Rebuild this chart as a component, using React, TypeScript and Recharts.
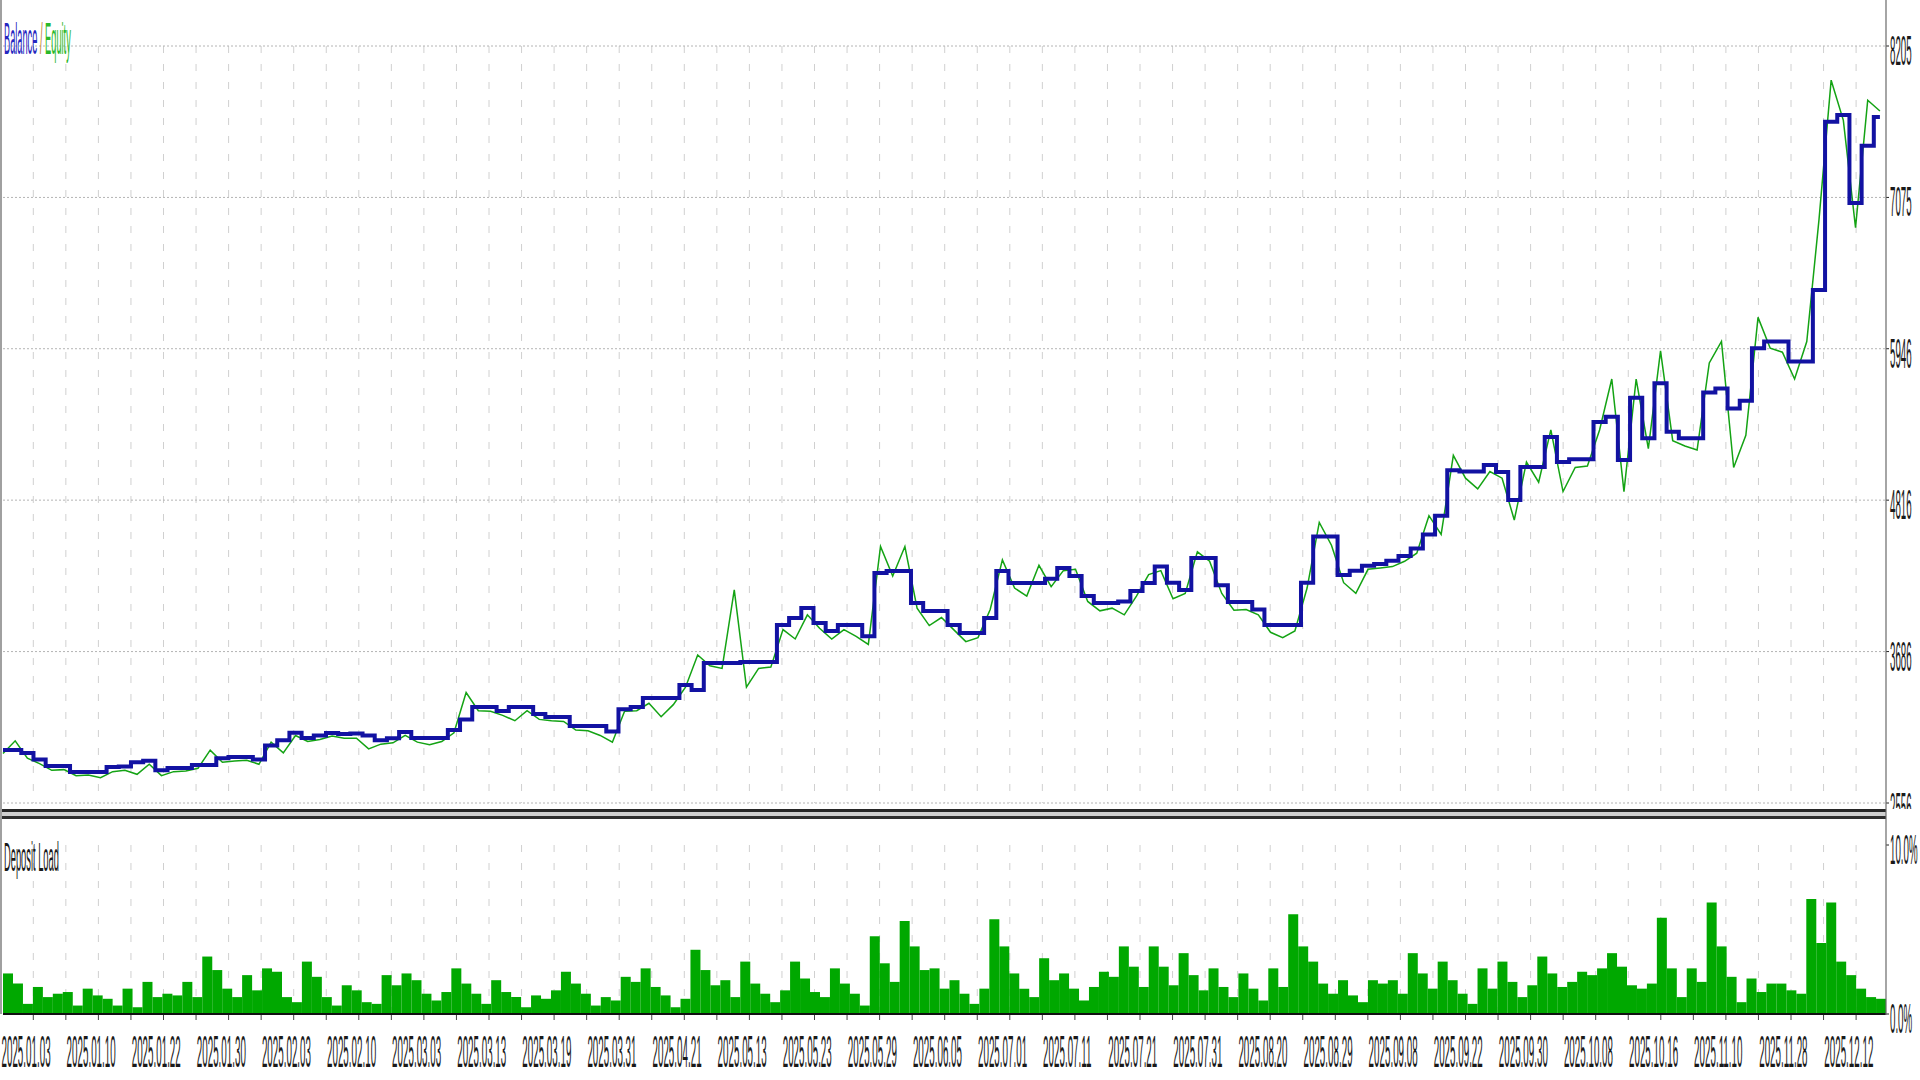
import React from "react";
import {
  Bar,
  BarChart,
  CartesianGrid,
  Line,
  LineChart,
  ReferenceLine,
  XAxis,
  YAxis,
} from "recharts";

// balance / equity, sampled left to right along the test
const balance = [
  2951, 2951, 2929, 2880, 2832, 2832, 2787, 2787, 2787, 2825,
  2828, 2860, 2872, 2800, 2817, 2817, 2840, 2840, 2890, 2900,
  2900, 2880, 2985, 3025, 3080, 3041, 3060, 3078, 3070, 3075,
  3060, 3024, 3040, 3086, 3041, 3041, 3041, 3100, 3180, 3272,
  3272, 3242, 3272, 3272, 3220, 3198, 3198, 3131, 3131, 3131,
  3090, 3255, 3272, 3339, 3339, 3339, 3437, 3400, 3600, 3600,
  3600, 3608, 3608, 3608, 3884, 3936, 4011, 3899, 3840, 3884,
  3884, 3800, 4272, 4287, 4287, 4048, 3989, 3989, 3884, 3825,
  3825, 3936, 4287, 4198, 4198, 4198, 4230, 4310, 4250, 4100,
  4048, 4048, 4060, 4138, 4198, 4320, 4200, 4145, 4384, 4384,
  4180, 4056, 4056, 4000, 3884, 3884, 3884, 4200, 4544, 4544,
  4257, 4290, 4327, 4340, 4364, 4400, 4455, 4560, 4700, 5040,
  5029, 5029, 5078, 5026, 4817, 5063, 5063, 5287, 5100, 5121,
  5121, 5400, 5439, 5116, 5580, 5277, 5688, 5327, 5277, 5277,
  5620, 5650, 5500, 5558, 5950, 6000, 6000, 5850, 5850, 6384,
  7640, 7690, 7034, 7460, 7675,
];

const equity = [
  2925, 3020, 2890, 2850, 2800, 2805, 2760, 2765, 2745, 2790,
  2800, 2770, 2845, 2760, 2790, 2795, 2815, 2950, 2860, 2870,
  2875, 2845, 3010, 2930, 3060, 3015, 3030, 3055, 3040, 3040,
  2960, 2995, 3005, 3060, 3010, 2990, 3015, 3080, 3380, 3245,
  3240, 3210, 3170, 3245, 3180, 3170, 3165, 3100, 3095, 3060,
  3010, 3240, 3245, 3300, 3200, 3290, 3420, 3660, 3580, 3560,
  4146, 3420, 3560, 3570, 3850, 3780, 3960, 3860, 3780, 3850,
  3800, 3740, 4470, 4250, 4470, 4010, 3880, 3940, 3850, 3760,
  3790, 4000, 4370, 4160, 4100, 4330, 4170, 4290, 4300, 4060,
  3990, 4010, 3960, 4100, 4260, 4290, 4080, 4120, 4430, 4360,
  4120, 3995, 4000, 3960, 3830, 3790, 3840, 4160, 4650, 4480,
  4200, 4120, 4300, 4310, 4320, 4360, 4420, 4700, 4560, 5150,
  4980, 4900, 5030, 4980, 4668, 5100, 4950, 5340, 4880, 5060,
  5070, 5340, 5720, 4880, 5720, 5200, 5930, 5260, 5220, 5190,
  5840, 6000, 5060, 5300, 6180, 5950, 5920, 5720, 6000, 6907,
  7950, 7650, 6850, 7800, 7720,
];

// deposit load, %
const depositLoad = [
  2.4, 1.8, 0.6, 1.6, 1.0, 1.2, 1.3, 0.5, 1.5, 1.1,
  0.9, 0.5, 1.5, 0.4, 1.9, 1.0, 1.2, 1.1, 1.9, 1.0,
  3.4, 2.6, 1.5, 1.0, 2.3, 1.4, 2.7, 2.5, 1.0, 0.7,
  3.1, 2.2, 1.0, 0.5, 1.7, 1.4, 0.7, 0.6, 2.3, 1.7,
  2.4, 2.0, 1.2, 0.8, 1.3, 2.7, 1.8, 1.2, 0.6, 2.0,
  1.3, 1.0, 0.4, 1.1, 0.9, 1.4, 2.5, 1.8, 1.2, 0.5,
  1.0, 0.8, 2.2, 1.9, 2.7, 1.6, 1.1, 0.4, 0.9, 3.8,
  2.6, 1.7, 2.0, 1.0, 3.1, 1.8, 1.2, 0.7, 1.4, 3.1,
  2.1, 1.3, 1.0, 2.7, 1.8, 1.2, 0.5, 4.6, 3.0, 1.9,
  5.5, 4.0, 2.6, 2.7, 1.5, 2.0, 1.2, 0.6, 1.5, 5.6,
  4.0, 2.4, 1.5, 1.0, 3.3, 2.0, 2.4, 1.5, 0.8, 1.6,
  2.5, 2.2, 4.0, 2.8, 1.6, 4.0, 2.8, 1.7, 3.6, 2.3,
  1.4, 2.7, 1.6, 1.0, 2.4, 1.5, 0.8, 2.7, 1.6, 5.9,
  4.0, 3.1, 1.8, 1.2, 2.0, 1.1, 0.7, 2.0, 1.8, 2.0,
  1.2, 3.6, 2.4, 1.5, 3.1, 2.0, 1.2, 0.6, 2.7, 1.5,
  3.1, 1.9, 1.0, 1.7, 3.4, 2.4, 1.6, 1.9, 2.5, 2.3,
  2.7, 3.6, 2.8, 1.7, 1.5, 1.8, 5.7, 2.7, 1.0, 2.7,
  1.9, 6.6, 4.0, 2.2, 0.7, 2.1, 1.3, 1.8, 1.8, 1.4,
  1.2, 6.8, 4.2, 6.6, 3.1, 2.3, 1.5, 1.0, 0.9,
];

const balanceTicks = [2556, 3686, 4816, 5946, 7075, 8205];
const loadTicks = [0, 10];

const dateLabels = [
  "2025.01.03", "2025.01.10", "2025.01.22", "2025.01.30", "2025.02.03",
  "2025.02.10", "2025.03.03", "2025.03.13", "2025.03.19", "2025.03.31",
  "2025.04.21", "2025.05.13", "2025.05.23", "2025.05.29", "2025.06.05",
  "2025.07.01", "2025.07.11", "2025.07.21", "2025.07.31", "2025.08.20",
  "2025.08.29", "2025.09.08", "2025.09.22", "2025.09.30", "2025.10.08",
  "2025.10.16", "2025.11.10", "2025.11.28", "2025.12.12",
];

const W = 1920;
const H = 1080;
const AXIS_X = 1886;
const GRID_STEP = 32.55;
const gridX = Array.from({ length: 57 }, (_, k) => 33.3 + k * GRID_STEP);

const FONT = "'Liberation Sans', Arial, sans-serif";

// MT5 report text is very narrow and tall
function Squeezed(props: {
  x: number;
  y: number;
  sx: number;
  size: number;
  fill?: string;
  children: React.ReactNode;
}) {
  const { x, y, sx, size, fill = "#1a1a1a", children } = props;
  return (
    <text
      transform={`translate(${x},${y}) scale(${sx},1)`}
      fontSize={size}
      fontFamily={FONT}
      fill={fill}
    >
      {children}
    </text>
  );
}

const balanceTick = ({ x, y, payload }: any) => (
  <Squeezed x={x} y={y + 19} sx={0.232} size={42}>
    {payload.value}
  </Squeezed>
);

const loadTick = ({ x, y, payload }: any) => (
  <Squeezed x={x} y={y + 19} sx={0.232} size={42}>
    {payload.value.toFixed(1) + "%"}
  </Squeezed>
);

export default function App() {
  const lineData = balance.map((b, i) => ({ i, balance: b, equity: equity[i] }));
  const barData = depositLoad.map((v, i) => ({ i, load: v }));

  return (
    <div
      style={{
        position: "absolute",
        left: 0,
        top: 0,
        width: W,
        height: H,
        background: "#fff",
        overflow: "hidden",
      }}
    >
      <div style={{ position: "absolute", left: 0, top: 0 }}>
        <LineChart
          width={W}
          height={812}
          data={lineData}
          margin={{ top: 46, right: 0, bottom: 9, left: 3 }}
        >
          <CartesianGrid
            horizontal={false}
            verticalPoints={gridX}
            stroke="#d0d0d0"
            strokeDasharray="7 11"
          />
          <CartesianGrid
            vertical={false}
            stroke="#b4b4b4"
            strokeDasharray="2 2"
          />
          <XAxis dataKey="i" type="number" domain={[0, 154.5]} hide />
          <YAxis
            orientation="right"
            width={W - AXIS_X}
            domain={[2556, 8205]}
            ticks={balanceTicks}
            axisLine={false}
            tickLine={{ stroke: "#222" }}
            tickSize={3}
            tickMargin={1}
            tick={balanceTick}
          />
          <Line
            dataKey="equity"
            type="linear"
            stroke="#14a314"
            strokeWidth={1.5}
            dot={false}
            isAnimationActive={false}
          />
          <Line
            dataKey="balance"
            type="step"
            stroke="#1212a2"
            strokeWidth={4}
            dot={false}
            isAnimationActive={false}
          />
        </LineChart>
      </div>

      <div
        style={{
          position: "absolute",
          left: 0,
          top: 809,
          width: W,
          height: H - 809,
          background: "#fff",
        }}
      >
        <div style={{ position: "absolute", left: 0, top: 0, width: AXIS_X, height: 3, background: "#262626" }} />
        <div style={{ position: "absolute", left: 0, top: 3, width: AXIS_X, height: 4, background: "#cfcfcf" }} />
        <div style={{ position: "absolute", left: 0, top: 7, width: AXIS_X, height: 3, background: "#2e2e2e" }} />
        <div style={{ position: "absolute", left: 0, top: 0 }}>
          <BarChart
            width={W}
            height={H - 809}
            data={barData}
            barCategoryGap={0}
            margin={{ top: 36, right: 0, bottom: 66, left: 3 }}
          >
            <CartesianGrid
              horizontal={false}
              verticalPoints={gridX}
              stroke="#d0d0d0"
              strokeDasharray="7 11"
            />
            <XAxis dataKey="i" hide />
            <YAxis
              orientation="right"
              width={W - AXIS_X}
              domain={[0, 10]}
              ticks={loadTicks}
              axisLine={false}
              tickLine={{ stroke: "#222" }}
              tickSize={3}
              tickMargin={1}
              tick={loadTick}
            />
            <Bar dataKey="load" fill="#00a800" isAnimationActive={false} />
            <ReferenceLine y={0} stroke="#111" strokeWidth={2} />
          </BarChart>
        </div>
      </div>

      <svg
        width={W}
        height={H}
        style={{ position: "absolute", left: 0, top: 0, pointerEvents: "none" }}
      >
        <rect x={0} y={0} width={2} height={1014} fill="#a0a0a0" />
        <line x1={AXIS_X} y1={0} x2={AXIS_X} y2={1015} stroke="#6a6a6a" strokeWidth={1.2} />
        {gridX.map((gx) => (
          <line key={gx} x1={gx} y1={1015} x2={gx} y2={1020} stroke="#444" strokeWidth={1} />
        ))}
        {dateLabels.map((d, m) => (
          <Squeezed key={d} x={1.5 + m * 2 * GRID_STEP} y={1067} sx={0.223} size={44}>
            {d}
          </Squeezed>
        ))}
        <text transform="translate(4,54) scale(0.21,1)" fontSize={44} fontFamily={FONT}>
          <tspan fill="#2626c0">Balance</tspan>
          <tspan fill="#c07a2a"> / </tspan>
          <tspan fill="#2ab82a">Equity</tspan>
        </text>
        <Squeezed x={4} y={871} sx={0.233} size={40}>
          Deposit Load
        </Squeezed>
      </svg>
    </div>
  );
}
